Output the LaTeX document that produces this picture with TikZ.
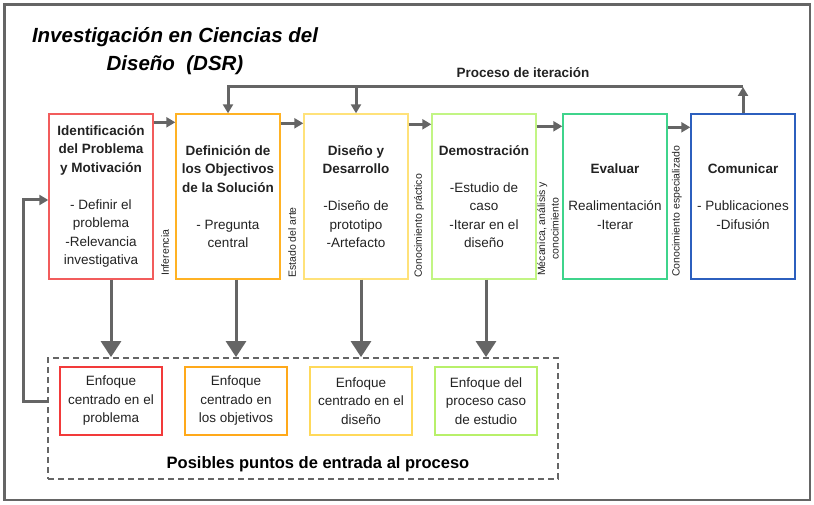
\documentclass[tikz,border=0pt]{standalone}
\usepackage{fontspec}
\setmainfont{Liberation Sans}
\usetikzlibrary{arrows.meta, calc, positioning}
\definecolor{dsGrey}{HTML}{656565}
\definecolor{dsText}{HTML}{222222}
\definecolor{dsRed}{HTML}{F25C5C}
\definecolor{dsOrange}{HTML}{FFB224}
\definecolor{dsYellow}{HTML}{FFE27A}
\definecolor{dsLime}{HTML}{C2F584}
\definecolor{dsGreen}{HTML}{3FD48C}
\definecolor{dsBlue}{HTML}{2C5FBE}
\definecolor{dsRedE}{HTML}{F23A3A}
\definecolor{dsOrangeE}{HTML}{FFA91A}
\definecolor{dsYellowE}{HTML}{FFD95A}
\definecolor{dsLimeE}{HTML}{B8F06A}
\tikzset{
  frameline/.style = {dsGrey, line width=2.5pt},
  stagebox/.style  = {draw=#1, line width=1.4pt, minimum width=104pt, minimum height=165pt,
                      inner sep=0pt, align=center, text=dsText,
                      font=\fontsize{13.5}{18.5}\selectfont},
  entrybox/.style  = {draw=#1, line width=2pt, minimum width=102pt, minimum height=68pt,
                      inner sep=0pt, align=center, text=dsText,
                      font=\fontsize{13.5}{18.5}\selectfont},
  flecha/.style    = {-{Triangle[length=9pt, width=10pt]}, dsGrey, line width=3pt},
  bigflecha/.style = {-{Triangle[length=16pt, width=20pt]}, dsGrey, line width=3pt},
  rotlbl/.style    = {rotate=90, anchor=west, inner sep=0pt, align=center, text=dsText,
                      font=\fontsize{10.5}{13.5}\selectfont},
  lbl/.style       = {font=\fontsize{13.5}{16}\selectfont\bfseries, text=dsText},
}

\begin{document}
\begin{tikzpicture}[x=1pt, y=-1pt]
  \useasboundingbox (0,0) rectangle (814,505);
  \draw[frameline] (4.5,4.5) rectangle (810,500);
  % title
  \node[align=center, font=\fontsize{20.5}{28}\selectfont\bfseries\itshape] (titulo) at (175,51)
    {Investigación en Ciencias del\\Diseño~~(DSR)};
  % the six stages
  \node[stagebox=dsRed] (b1) at (101,196.5) {\textbf{Identificación}\\\textbf{del Problema}\\
    \textbf{y Motivación}\\[18.5pt]- Definir el\\problema\\-Relevancia\\investigativa};
  \node[stagebox=dsOrange] (b2) at (228,196.5) {\textbf{Definición de}\\\textbf{los Objectivos}\\
    \textbf{de la Solución}\\[18.5pt]- Pregunta\\central};
  \node[stagebox=dsYellow] (b3) at (356,196.5) {\textbf{Diseño y}\\\textbf{Desarrollo}\\[18.5pt]
    -Diseño de\\prototipo\\-Artefacto};
  \node[stagebox=dsLime] (b4) at (484,196.5) {\textbf{Demostración}\\[18.5pt]-Estudio de\\caso\\
    -Iterar en el\\diseño};
  \node[stagebox=dsGreen] (b5) at (615,196.5) {\textbf{Evaluar}\\[18.5pt]Realimentación\\-Iterar};
  \node[stagebox=dsBlue] (b6) at (743,196.5) {\textbf{Comunicar}\\[18.5pt]- Publicaciones\\-Difusión};
  \foreach \a/\b/\d in {b1/b2/9, b2/b3/10, b3/b4/11, b4/b5/13, b5/b6/14} {
    \coordinate (s) at ($(\a.north east)+(0,\d)$);
    \draw[flecha] (s) -- (s -| \b.west);
  }
  % knowledge between stages
  \node[rotlbl] (l1) at (165,276) {Inferencia};
  \node[rotlbl] (l2) at (292,278) {Estado del arte};
  \node[rotlbl] (l3) at (419,278) {Conocimiento práctico};
  \node[rotlbl] (l4) at (548,276) {Mécanica, análisis y\\conocimiento};
  \node[rotlbl] (l5) at (677,277) {Conocimiento especializado};
  % iteration loop
  \node[lbl] (iter) at (523,73) {Proceso de iteración};
  \coordinate (itR) at (b6.north |- 0,87);
  \draw[flecha] (b6.north) -- (itR);
  \draw[flecha] (itR) -| (b2.north);
  \draw[flecha] (b3.north |- itR) -- (b3.north);
  % entry points
  \node[draw=dsGrey, line width=1.8pt, dash pattern=on 6pt off 4pt,
        minimum width=510pt, minimum height=121pt] (zona) at (303,418.5) {};
  \node[entrybox=dsRedE]    (e1) at (111,401) {Enfoque\\centrado en el\\problema};
  \node[entrybox=dsOrangeE] (e2) at (236,401) {Enfoque\\centrado en\\los objetivos};
  \node[entrybox=dsYellowE] (e3) at (361,401) {Enfoque\\centrado en el\\diseño};
  \node[entrybox=dsLimeE]   (e4) at (486,401) {Enfoque del\\proceso caso\\de estudio};
  \node[font=\fontsize{16.5}{20}\selectfont\bfseries] (pep) at (318,464)
    {Posibles puntos de entrada al proceso};
  \foreach \s/\e in {b1/e1, b2/e2, b3/e3, b4/e4}
    \draw[bigflecha] (\e |- \s.south) -- (\e |- zona.north);
  \coordinate (ret) at (23,200);
  \draw[flecha] (zona.west |- e1) -| (ret) -- (ret -| b1.west);
\end{tikzpicture}
\end{document}
